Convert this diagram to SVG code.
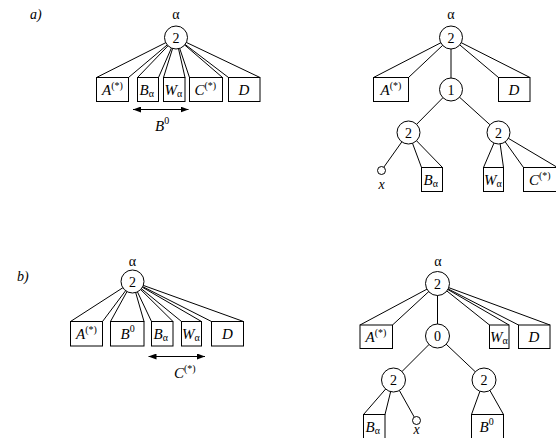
<svg xmlns="http://www.w3.org/2000/svg" width="556" height="438" viewBox="0 0 556 438">
<defs>
<style>
.e{stroke:#000;stroke-width:1;fill:none}
.n{fill:#fff;stroke:#000;stroke-width:1}
.t{font-family:"Liberation Serif","Times New Roman",serif;font-size:14px;fill:#000}
.L{font-size:15px}
.i{font-style:italic}
.s{font-size:10px;font-style:normal}
.m{text-anchor:middle}
</style>
<marker id="ah" viewBox="0 0 8 6" refX="8" refY="3" markerWidth="8" markerHeight="6" orient="auto-start-reverse" markerUnits="userSpaceOnUse">
<path d="M0,0 L8,3 L0,6 Z" fill="#000"/>
</marker>
</defs>
<rect width="556" height="438" fill="#fff"/>

<g id="connectors">
<path class="e" d="M176,37.5L96.5,77.5M176,37.5L128.5,77.5M176,37.5L137.5,77.5M176,37.5L158.5,77.5M176,37.5L163.5,77.5M176,37.5L185,77.5M176,37.5L189.5,77.5M176,37.5L222.5,77.5M176,37.5L228.5,77.5M176,37.5L260,77.5"/>
<line class="e" x1="133" y1="109.5" x2="188.5" y2="109.5" marker-start="url(#ah)" marker-end="url(#ah)"/>
<path class="e" d="M451,37.5L373.5,77.5M451,37.5L408.5,77.5M451,37.5L451,89.5M451,37.5L498.5,77.5M451,37.5L530,77.5"/>
<path class="e" d="M451,89.5L408.5,132.5M451,89.5L498.5,132.5"/>
<path class="e" d="M408.5,132.5L383.8,167.2M408.5,132.5L421.5,167.5M408.5,132.5L442.5,167.5"/>
<path class="e" d="M498.5,132.5L483.5,167.5M498.5,132.5L503.5,167.5M498.5,132.5L523.5,167.5M498.5,132.5L557.5,167.5"/>
<path class="e" d="M132.5,281.5L70.5,321.5M132.5,281.5L102.5,321.5M132.5,281.5L110.5,321.5M132.5,281.5L144,321.5M132.5,281.5L151.5,321.5M132.5,281.5L173,321.5M132.5,281.5L181.5,321.5M132.5,281.5L201.5,321.5M132.5,281.5L211.5,321.5M132.5,281.5L243.5,321.5"/>
<line class="e" x1="148.5" y1="356.5" x2="205" y2="356.5" marker-start="url(#ah)" marker-end="url(#ah)"/>
<path class="e" d="M437.5,283.5L360,325M437.5,283.5L392.5,325M437.5,283.5L437.5,336M437.5,283.5L489.5,325M437.5,283.5L509,325M437.5,283.5L518.5,325M437.5,283.5L550,325"/>
<path class="e" d="M437.5,336L393.5,380M437.5,336L484,380"/>
<path class="e" d="M393.5,380L363.5,414.5M393.5,380L385,414.5M393.5,380L414.2,417"/>
<path class="e" d="M484,380L471.5,414.5M484,380L503.5,414.5"/>
</g>

<text class="t i" x="30" y="19">a)</text>
<text class="t i" x="17" y="281">b)</text>

<g id="a-root">
<text class="t m" x="176" y="19">α</text>
<circle class="n" cx="176" cy="37.5" r="11.5"/>
<text class="t m" x="176" y="42.5">2</text>
</g>
<g id="a-A"><rect class="n" x="96.5" y="77.5" width="32" height="24"/><text class="t L" x="102" y="95"><tspan class="i">A</tspan><tspan class="s" dy="-6">(*)</tspan></text></g>
<g id="a-B"><rect class="n" x="137.5" y="77.5" width="21" height="24"/><text class="t L" x="139.5" y="95"><tspan class="i">B</tspan><tspan class="s" dy="2">α</tspan></text></g>
<g id="a-W"><rect class="n" x="163.5" y="77.5" width="21.5" height="24"/><text class="t L" x="164.5" y="95"><tspan class="i">W</tspan><tspan class="s" dy="2">α</tspan></text></g>
<g id="a-C"><rect class="n" x="189.5" y="77.5" width="33" height="24"/><text class="t L" x="194.5" y="95"><tspan class="i">C</tspan><tspan class="s" dy="-6">(*)</tspan></text></g>
<g id="a-D"><rect class="n" x="228.5" y="77.5" width="31.5" height="24"/><text class="t L i m" x="244" y="95">D</text></g>
<text class="t L" x="155" y="131"><tspan class="i">B</tspan><tspan class="s" dy="-7">0</tspan></text>

<g id="ar-root">
<text class="t m" x="451" y="19">α</text>
<circle class="n" cx="451" cy="37.5" r="11.5"/>
<text class="t m" x="451" y="42.5">2</text>
</g>
<g id="ar-A"><rect class="n" x="373.5" y="77.5" width="35" height="24"/><text class="t L" x="380.5" y="95"><tspan class="i">A</tspan><tspan class="s" dy="-6">(*)</tspan></text></g>
<g id="ar-1"><circle class="n" cx="451" cy="89.5" r="11.5"/><text class="t m" x="451" y="94.5">1</text></g>
<g id="ar-D"><rect class="n" x="498.5" y="77.5" width="31.5" height="24"/><text class="t L i m" x="514" y="95">D</text></g>
<g id="ar-2l"><circle class="n" cx="408.5" cy="132.5" r="11.5"/><text class="t m" x="408.5" y="137.5">2</text></g>
<g id="ar-2r"><circle class="n" cx="498.5" cy="132.5" r="11.5"/><text class="t m" x="498.5" y="137.5">2</text></g>
<g id="ar-x"><circle class="n" cx="381.5" cy="170.5" r="4"/><text class="t i m" x="381.5" y="189">x</text></g>
<g id="ar-B"><rect class="n" x="421.5" y="167.5" width="21" height="24"/><text class="t L" x="423.5" y="185"><tspan class="i">B</tspan><tspan class="s" dy="2">α</tspan></text></g>
<g id="ar-W"><rect class="n" x="483.5" y="167.5" width="20" height="24"/><text class="t L" x="484" y="185"><tspan class="i">W</tspan><tspan class="s" dy="2">α</tspan></text></g>
<g id="ar-C"><rect class="n" x="523.5" y="167.5" width="34" height="24"/><text class="t L" x="529" y="185"><tspan class="i">C</tspan><tspan class="s" dy="-6">(*)</tspan></text></g>

<g id="b-root">
<text class="t m" x="132.5" y="266">α</text>
<circle class="n" cx="132.5" cy="281.5" r="11.5"/>
<text class="t m" x="132.5" y="286.5">2</text>
</g>
<g id="b-A"><rect class="n" x="70.5" y="321.5" width="32" height="24.5"/><text class="t L" x="76" y="339"><tspan class="i">A</tspan><tspan class="s" dy="-6">(*)</tspan></text></g>
<g id="b-B0"><rect class="n" x="110.5" y="321.5" width="33.5" height="24.5"/><text class="t L" x="120.5" y="339"><tspan class="i">B</tspan><tspan class="s" dy="-7">0</tspan></text></g>
<g id="b-B"><rect class="n" x="151.5" y="321.5" width="21.5" height="24.5"/><text class="t L" x="153.5" y="339"><tspan class="i">B</tspan><tspan class="s" dy="2">α</tspan></text></g>
<g id="b-W"><rect class="n" x="181.5" y="321.5" width="20" height="24.5"/><text class="t L" x="182" y="339"><tspan class="i">W</tspan><tspan class="s" dy="2">α</tspan></text></g>
<g id="b-D"><rect class="n" x="211.5" y="321.5" width="32" height="24.5"/><text class="t L i m" x="227.5" y="339">D</text></g>
<text class="t L" x="174" y="378"><tspan class="i">C</tspan><tspan class="s" dy="-6">(*)</tspan></text>

<g id="br-root">
<text class="t m" x="438" y="266">α</text>
<circle class="n" cx="437.5" cy="283.5" r="12"/>
<text class="t m" x="437.5" y="288.5">2</text>
</g>
<g id="br-A"><rect class="n" x="360" y="325" width="32.5" height="23.5"/><text class="t L" x="365.5" y="342"><tspan class="i">A</tspan><tspan class="s" dy="-6">(*)</tspan></text></g>
<g id="br-0"><circle class="n" cx="437.5" cy="336" r="12"/><text class="t m" x="437.5" y="341">0</text></g>
<g id="br-W"><rect class="n" x="489.5" y="325" width="19.5" height="23.5"/><text class="t L" x="490" y="342"><tspan class="i">W</tspan><tspan class="s" dy="2">α</tspan></text></g>
<g id="br-D"><rect class="n" x="518.5" y="325" width="31.5" height="23.5"/><text class="t L i m" x="534" y="342">D</text></g>
<g id="br-2l"><circle class="n" cx="393.5" cy="380" r="12"/><text class="t m" x="393.5" y="385">2</text></g>
<g id="br-2r"><circle class="n" cx="484" cy="380" r="12"/><text class="t m" x="484" y="385">2</text></g>
<g id="br-B"><rect class="n" x="363.5" y="414.5" width="21.5" height="30"/><text class="t L" x="365.5" y="432"><tspan class="i">B</tspan><tspan class="s" dy="2">α</tspan></text></g>
<g id="br-x"><circle class="n" cx="416.5" cy="420.5" r="4"/><text class="t i m" x="416.5" y="433.5">x</text></g>
<g id="br-B0"><rect class="n" x="471.5" y="414.5" width="32" height="30"/><text class="t L" x="479.5" y="432"><tspan class="i">B</tspan><tspan class="s" dy="-7">0</tspan></text></g>
</svg>
